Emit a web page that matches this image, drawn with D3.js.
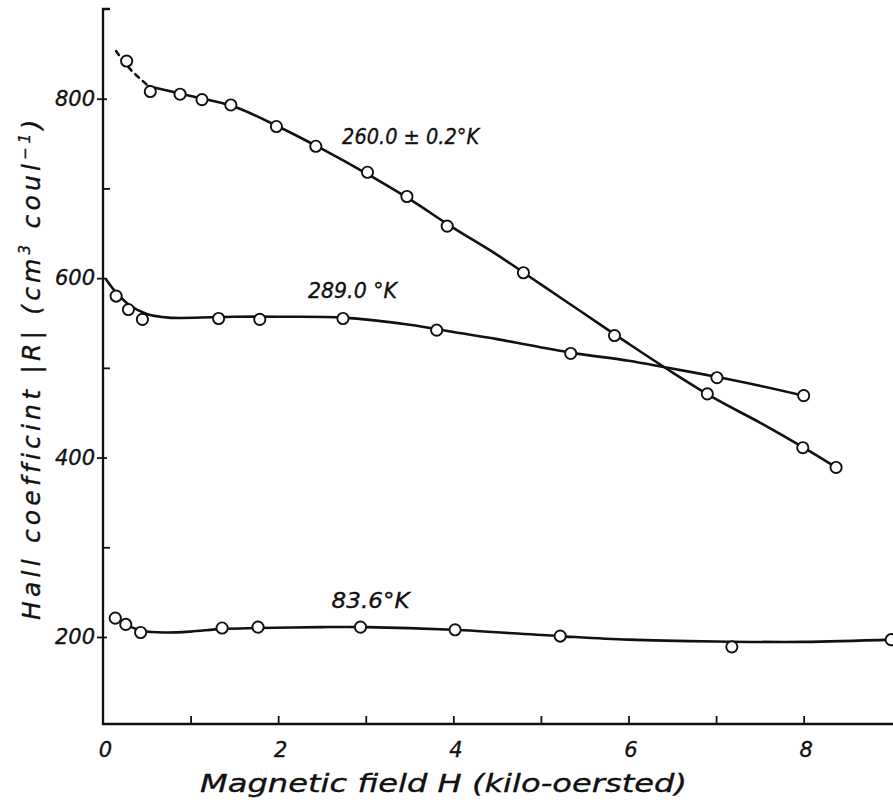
<!DOCTYPE html>
<html>
<head>
<meta charset="utf-8">
<script src="https://cdn.jsdelivr.net/npm/d3@7"></script>
<style>
  html, body { margin: 0; padding: 0; background: #fff; }
  svg { display: block; }
  text { font-family: "DejaVu Sans", sans-serif; font-style: italic; fill: #111; stroke: #111; stroke-width: 0.35px; }
</style>
</head>
<body>
<svg id="chart" width="893" height="802"></svg>
<script>
// ---------- data ----------
const seriesNames = ["260.0 ± 0.2°K", "289.0 °K", "83.6°K"];

// measured points: H (kilo-oersted), |R| (cm3/coul)
const pts260H = [0.27, 0.54, 0.88, 1.13, 1.46, 1.98, 2.43, 3.02, 3.47, 3.93, 4.80, 5.84, 6.90, 7.99, 8.37];
const pts260R = [842, 808, 805, 799, 793, 769, 747, 718, 691, 658, 606, 536, 471, 411, 389];

const pts289H = [0.15, 0.29, 0.45, 1.32, 1.79, 2.74, 3.81, 5.34, 7.01, 8.00];
const pts289R = [580, 565, 554, 555, 554, 555, 542, 516, 489, 469];

const pts84H = [0.14, 0.26, 0.43, 1.36, 1.77, 2.94, 4.02, 5.22, 7.18, 9.00];
const pts84R = [221, 214, 205, 210, 211, 211, 208, 201, 189, 197];

// smooth drawn curves
const curve260DashH = [0.15, 0.30, 0.52];
const curve260DashR = [853, 834, 814];
const curve260H = [0.52, 1.0, 1.5, 2.0, 2.5, 3.0, 3.5, 4.0, 4.5, 5.0, 5.5, 6.0, 6.5, 7.0, 7.5, 8.0, 8.37];
const curve260R = [814, 803, 791, 769, 744, 717, 688, 656, 626, 593, 560, 527, 495, 465, 439, 411, 389];

const curve289H = [0.04, 0.15, 0.30, 0.50, 0.75, 1.5, 2.0, 2.75, 3.5, 4.0, 4.5, 5.34, 6.0, 6.4, 7.0, 7.5, 8.0];
const curve289R = [598, 584, 570, 560, 556, 557, 557, 556, 548, 540, 532, 517, 508, 501, 490, 480, 469];

const curve84H = [0.28, 0.45, 0.7, 1.0, 1.36, 1.77, 2.5, 3.0, 4.0, 5.2, 6.0, 7.0, 8.0, 9.02];
const curve84R = [213, 207, 205, 206, 209, 210, 211, 211, 208, 201, 197, 195, 194.5, 197];

const xTickMarks = [1, 2, 3, 4, 5, 6, 7, 8];
const xTickLabels = [0, 2, 4, 6, 8];
const yTickLabels = [200, 400, 600, 800];
const yMinorTicks = [300, 500, 700];

const xTitle = "Magnetic field H (kilo-oersted)";
const yTitleParts = [["Hall coefficint |R| (cm", 0], ["3", 1], [" coul", 0], ["−1", 1], [")", 0]];

// ---------- chart ----------
const svg = d3.select("#chart");
const x = d3.scaleLinear().domain([0, 9.02]).range([103, 893]);
const y = d3.scaleLinear().domain([103, 900]).range([724, 9]);

// axes lines
const axisG = svg.append("g").attr("stroke", "#111").attr("stroke-width", 2.3).attr("fill", "none");
axisG.append("path").attr("d", `M${x(0) + 7},${y(900)}H${x(0)}V${y(103)}H${x(9.02)}`);

// x ticks (inside)
const xAx = d3.axisBottom(x).tickValues(xTickMarks).tickSizeInner(-8).tickSizeOuter(0).tickFormat("");
const gx = svg.append("g").attr("transform", `translate(0,${y(103)})`).call(xAx);
gx.select(".domain").remove();
gx.selectAll(".tick line").attr("stroke", "#111").attr("stroke-width", 1.8);

const xLab = d3.axisBottom(x).tickValues(xTickLabels).tickSize(0).tickPadding(17).tickFormat(d3.format("d"));
const gxl = svg.append("g").attr("transform", `translate(0,${y(103)})`).call(xLab);
gxl.select(".domain").remove();
gxl.selectAll(".tick line").remove();
gxl.selectAll(".tick text").attr("font-size", 21).attr("font-family", "DejaVu Sans").attr("font-style", "italic")
  .attr("fill", "#111").attr("dy", "0.75em").attr("dx", 2);

// y ticks
const yMinor = d3.axisLeft(y).tickValues(yMinorTicks).tickSizeInner(-7).tickSizeOuter(0).tickFormat("");
const gym = svg.append("g").attr("transform", `translate(${x(0)},0)`).call(yMinor);
gym.select(".domain").remove();
gym.selectAll(".tick line").attr("stroke", "#111").attr("stroke-width", 1.8);

const yMajor = d3.axisLeft(y).tickValues(yTickLabels).tickSizeInner(6).tickSizeOuter(0).tickPadding(2).tickFormat(d3.format("d"));
const gy = svg.append("g").attr("transform", `translate(${x(0)},0)`).call(yMajor);
gy.select(".domain").remove();
gy.selectAll(".tick line").attr("stroke", "#111").attr("stroke-width", 1.8).attr("x2", -6).attr("x1", 4);
gy.selectAll(".tick text").attr("font-size", 21).attr("font-family", "DejaVu Sans").attr("font-style", "italic").attr("fill", "#111");

// curves
const line = d3.line().x(d => x(d[0])).y(d => y(d[1])).curve(d3.curveCatmullRom.alpha(0.5));
const zip = (a, b) => a.map((v, i) => [v, b[i]]);
const curves = [
  { d: zip(curve260H, curve260R), dash: null },
  { d: zip(curve260DashH, curve260DashR), dash: "5,5" },
  { d: zip(curve289H, curve289R), dash: null },
  { d: zip(curve84H, curve84R), dash: null }
];
svg.append("g").selectAll("path").data(curves).join("path")
  .attr("d", c => line(c.d))
  .attr("fill", "none").attr("stroke", "#111").attr("stroke-width", 2.6)
  .attr("stroke-linecap", "round")
  .attr("stroke-dasharray", c => c.dash);

// points
const allPts = [].concat(zip(pts260H, pts260R), zip(pts289H, pts289R), zip(pts84H, pts84R));
svg.append("g").selectAll("circle").data(allPts).join("circle")
  .attr("cx", d => x(d[0])).attr("cy", d => y(d[1])).attr("r", 5.6)
  .attr("fill", "#fff").attr("stroke", "#111").attr("stroke-width", 1.9);

// series labels
const labelPos = [[2.73, 749], [2.34, 578], [2.61, 232]];
const labelLen = [137, 89, 78];
svg.append("g").selectAll("text").data(seriesNames).join("text")
  .attr("x", (d, i) => x(labelPos[i][0])).attr("y", (d, i) => y(labelPos[i][1]))
  .attr("font-size", 21)
  .attr("textLength", (d, i) => labelLen[i]).attr("lengthAdjust", "spacingAndGlyphs")
  .text(d => d);

// axis titles
svg.append("text").attr("x", 200).attr("y", 792).attr("font-size", 25)
  .attr("textLength", 487).attr("lengthAdjust", "spacingAndGlyphs").text(xTitle);

const yt = svg.append("text").attr("transform", "translate(40,620) rotate(-90)").attr("font-size", 25);
yTitleParts.forEach(([t, sup], i) => {
  const ts = yt.append("tspan").text(t);
  if (sup) ts.attr("font-size", 15).attr("dy", -10);
  else if (i > 0 && yTitleParts[i - 1][1]) ts.attr("dy", 10);
});
// stretch the letter spacing so the title spans the same length as in the original
const ytLen = yt.node().getComputedTextLength();
const nChars = yTitleParts.reduce((s, p) => s + p[0].length, 0);
yt.attr("letter-spacing", (505 - ytLen) / nChars);
</script>
</body>
</html>
